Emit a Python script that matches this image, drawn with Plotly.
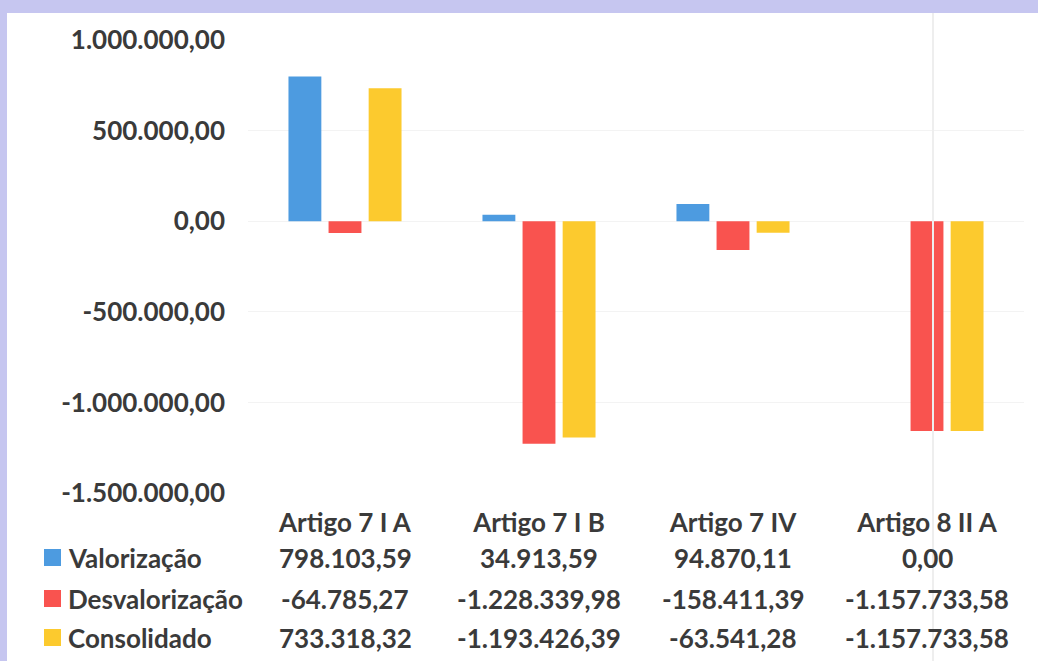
import plotly.graph_objects as go

categories = ["Artigo 7 I A", "Artigo 7 I B", "Artigo 7 IV", "Artigo 8 II A"]
series_names = ["Valorização", "Desvalorização", "Consolidado"]
valorizacao = [798103.59, 34913.59, 94870.11, 0.00]
desvalorizacao = [-64785.27, -1228339.98, -158411.39, -1157733.58]
consolidado = [733318.32, -1193426.39, -63541.28, -1157733.58]
colors = ["#4d9be0", "#f9534f", "#fcca2e"]
y_ticks = [1000000, 500000, 0, -500000, -1000000, -1500000]

series_values = [valorizacao, desvalorizacao, consolidado]


def fmt_br(v):
    s = f"{v:,.2f}"
    return s.replace(",", "X").replace(".", ",").replace("X", ".")


FONT = "Lato, 'Open Sans', sans-serif"
TEXT_COLOR = "#3a3a3a"
FS = 26
W, H = 1038, 661
ML, MR, MT, MB = 248, 14, 40, 168
PW, PH = W - ML - MR, H - MT - MB


def px_x(x):
    return (x - ML) / PW


def px_y(y):
    return (H - MB - y) / PH


fig = go.Figure()
for name, vals, col in zip(series_names, series_values, colors):
    fig.add_trace(go.Bar(x=categories, y=vals, name=name, marker_color=col,
                         marker_line_width=0, showlegend=False))

fig.update_layout(
    width=W, height=H,
    margin=dict(l=ML, r=MR, t=MT, b=MB),
    paper_bgcolor="white", plot_bgcolor="white",
    barmode="group", bargap=0.38, bargroupgap=0.18,
    font=dict(family=FONT, size=FS, color=TEXT_COLOR),
    yaxis=dict(range=[-1500000, 1000000], tickvals=y_ticks,
               ticktext=[fmt_br(v) for v in y_ticks],
               showgrid=True, gridcolor="#f3f3f3", zeroline=False,
               tickfont=dict(family=FONT, size=FS, color=TEXT_COLOR, weight="bold"),
               ticklabelstandoff=22, showline=False),
    xaxis=dict(showticklabels=True, showgrid=False, showline=False, zeroline=False,
               tickfont=dict(family=FONT, size=FS, color=TEXT_COLOR, weight="bold"),
               ticklabelstandoff=12),
)

# lavender border strips (scan artifact)
fig.add_shape(type="rect", xref="paper", yref="paper",
              x0=px_x(0), x1=px_x(W), y0=px_y(13), y1=px_y(0),
              line_width=0, fillcolor="#c6c6f0", layer="below")
fig.add_shape(type="rect", xref="paper", yref="paper",
              x0=px_x(0), x1=px_x(7), y0=px_y(H), y1=px_y(0),
              line_width=0, fillcolor="#c6c6f0", layer="below")
# faint vertical scan line
fig.add_shape(type="line", xref="paper", yref="paper",
              x0=px_x(933), x1=px_x(933), y0=px_y(H), y1=px_y(13),
              line=dict(color="#eeeeee", width=2), layer="above")

# Data table rows
row_y_px = [558, 599, 638]
for name, vals, col, ypx in zip(series_names, series_values, colors, row_y_px):
    yp = px_y(ypx)
    fig.add_shape(type="rect", xref="paper", yref="paper",
                  x0=px_x(44), x1=px_x(61), y0=px_y(ypx + 8), y1=px_y(ypx - 9),
                  line_width=0, fillcolor=col)
    fig.add_annotation(xref="paper", yref="paper", x=px_x(66), y=yp,
                       xanchor="left", yanchor="middle", showarrow=False,
                       text=f"<b>{name}</b>",
                       font=dict(family=FONT, size=FS, color=TEXT_COLOR))
    for cat, v in zip(categories, vals):
        fig.add_annotation(xref="x", yref="paper", x=cat, y=yp,
                           xanchor="center", yanchor="middle", showarrow=False,
                           text=f"<b>{fmt_br(v)}</b>",
                           font=dict(family=FONT, size=FS, color=TEXT_COLOR))

fig.write_html("out.html", config={"displayModeBar": False},
               post_script="document.body.style.margin='0';document.body.style.overflow='hidden';")
